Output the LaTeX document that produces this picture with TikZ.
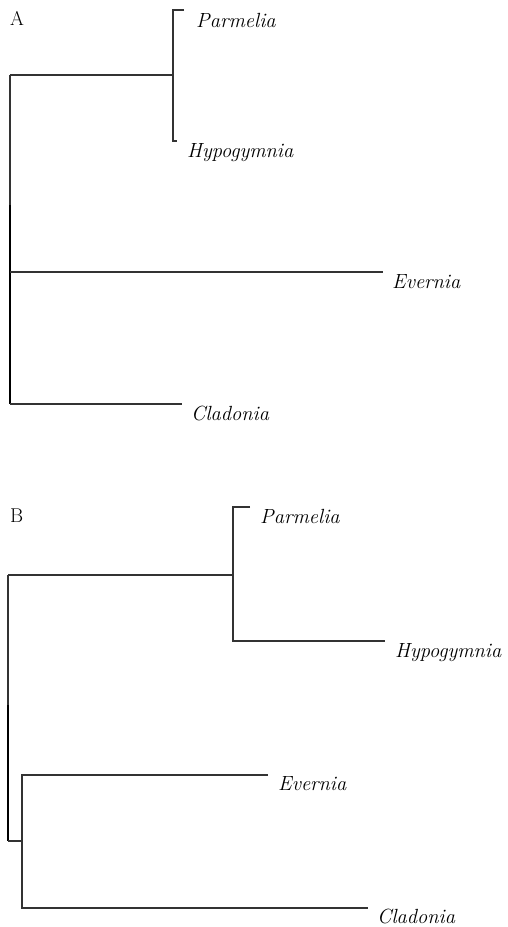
\documentclass[tikz,border=0pt]{standalone}
\begin{document}
\begin{tikzpicture}[x=1pt,y=-1pt,
  branch/.style={draw=black!80,line width=1.1pt},
  trunk/.style={draw=black,line width=1.6pt},
  taxon/.style={font=\fontsize{20.5}{24}\selectfont\itshape,inner sep=0pt,anchor=base west},
  panel/.style={font=\fontsize{20}{24}\selectfont,inner sep=0pt,anchor=base west}]
\useasboundingbox (0,0) rectangle (507,927);
% ---------- Tree A ----------
\node[panel] (labA) at (10,25) {A};
\coordinate (aRootTop) at (10,75);
\coordinate (aRootMid) at (10,205);
\coordinate (aRootBot) at (10,404);
\coordinate (aPH) at (173,75);
\coordinate (aPtop) at (173,10);
\coordinate (aPend) at (184,10);
\coordinate (aHbot) at (173,141);
\coordinate (aHend) at (177,141);
\coordinate (aEstart) at (10,272);
\coordinate (aEend) at (383,272);
\coordinate (aCend) at (182,404);
\node[taxon] (aPar) at (196,27) {Parmelia};
\node[taxon] (aHyp) at (187,157) {Hypogymnia};
\node[taxon] (aEve) at (392,288) {Evernia};
\node[taxon] (aCla) at (191,420) {Cladonia};
\draw[branch] (aRootTop) -- (aRootBot);
\draw[trunk] (aRootMid) -- (aRootBot);
\draw[branch] (aRootTop) -- (aPH);
\draw[branch] (aPend) -- (aPtop) -- (aHbot) -- (aHend);
\draw[branch] (aEstart) -- (aEend);
\draw[branch] (aRootBot) -- (aCend);
% ---------- Tree B ----------
\node[panel] (labB) at (10,522) {B};
\coordinate (bRootTop) at (8,575);
\coordinate (bRootMid) at (8,705);
\coordinate (bRootBot) at (8,841);
\coordinate (bPH) at (233,575);
\coordinate (bPtop) at (233,507);
\coordinate (bPend) at (250,507);
\coordinate (bHbot) at (233,641);
\coordinate (bHend) at (385,641);
\coordinate (bEC) at (22,841);
\coordinate (bEtop) at (22,775);
\coordinate (bEend) at (268,775);
\coordinate (bCbot) at (22,908);
\coordinate (bCend) at (368,908);
\node[taxon] (bPar) at (260,523) {Parmelia};
\node[taxon] (bHyp) at (395,657) {Hypogymnia};
\node[taxon] (bEve) at (278,790) {Evernia};
\node[taxon] (bCla) at (377,923) {Cladonia};
\draw[branch] (bRootTop) -- (bRootBot);
\draw[trunk] (bRootMid) -- (bRootBot);
\draw[branch] (bRootTop) -- (bPH);
\draw[branch] (bPend) -- (bPtop) -- (bHbot) -- (bHend);
\draw[branch] (bRootBot) -- (bEC);
\draw[branch] (bEend) -- (bEtop) -- (bCbot) -- (bCend);
\end{tikzpicture}
\end{document}
